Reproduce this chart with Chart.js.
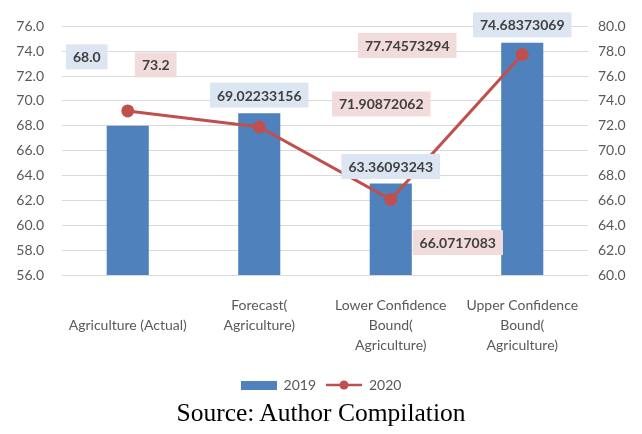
<!DOCTYPE html>
<html lang="en">
<head>
  <meta charset="UTF-8">
  <title>Agriculture forecast</title>
  <script src="https://cdn.jsdelivr.net/npm/chart.js"></script>
  <style>
    body { margin: 0; background: #fff; }
    .wrap { position: relative; width: 642px; height: 434px; }
    #chart { position: absolute; left: 0; top: 0; }
    .source {
      position: absolute; left: 0; top: 397px; width: 642px;
      text-align: center; font-family: "Liberation Serif", "Times New Roman", serif;
      font-size: 25.5px; line-height: 32px; color: #000;
    }
  </style>
</head>
<body>
<div class="wrap">
  <canvas id="chart" width="642" height="402"></canvas>
  <div class="source">Source: Author Compilation</div>
</div>

<script>
  // chart values
  const categories = [
    ['', 'Agriculture (Actual)'],
    ['Forecast(', 'Agriculture)'],
    ['Lower Confidence', 'Bound(', 'Agriculture)'],
    ['Upper Confidence', 'Bound(', 'Agriculture)']
  ];
  const values2019 = [68.0, 69.02233156, 63.36093243, 74.68373069];
  const values2020 = [73.2, 71.90872062, 66.0717083, 77.74573294];
  const leftTicks = [56, 76, 2];   // min, max, step
  const rightTicks = [60, 80, 2];

  // where each value label sits, relative to its bar top / point (px)
  const labelOffsets2019 = [[-41, -69], [0, -18], [0, -17], [0, -18]];
  const labelOffsets2020 = [[28, -46], [122, -23], [67, 43], [-115, -9]];

  const barColor = '#4f81bd';
  const lineColor = '#c0504d';
  const tickColor = '#595959';

  function fmt(v) {
    const s = String(v);
    return s.includes('.') ? s : v.toFixed(1);
  }

  // legend symbols
  function barSymbol() {
    const c = document.createElement('canvas');
    c.width = 36; c.height = 9;
    const g = c.getContext('2d');
    g.fillStyle = barColor;
    g.fillRect(0, 0, 36, 9);
    return c;
  }
  function lineSymbol() {
    const c = document.createElement('canvas');
    c.width = 36; c.height = 12;
    const g = c.getContext('2d');
    g.strokeStyle = lineColor;
    g.lineWidth = 2.5;
    g.beginPath(); g.moveTo(0, 6); g.lineTo(36, 6); g.stroke();
    g.fillStyle = lineColor;
    g.beginPath(); g.arc(18, 6, 4.5, 0, Math.PI * 2); g.fill();
    return c;
  }

  // boxed value labels
  const valueLabels = {
    id: 'valueLabels',
    afterDatasetsDraw(chart) {
      const ctx = chart.ctx;
      ctx.save();
      ctx.font = 'bold 14px Lato, sans-serif';
      ctx.textAlign = 'center';
      ctx.textBaseline = 'middle';
      chart.data.datasets.forEach((ds, i) => {
        const meta = chart.getDatasetMeta(i);
        const offs = ds.labelOffsets;
        meta.data.forEach((el, j) => {
          const text = fmt(ds.data[j]);
          const x = el.x + offs[j][0];
          const y = el.y + offs[j][1];
          const w = ctx.measureText(text).width + 14;
          const h = 25;
          ctx.fillStyle = ds.labelBg;
          ctx.fillRect(x - w / 2, y - h / 2, w, h);
          ctx.fillStyle = '#404040';
          ctx.fillText(text, x, y + 1);
        });
      });
      ctx.restore();
    }
  };

  const ctx = document.getElementById('chart').getContext('2d');
  new Chart(ctx, {
    type: 'bar',
    data: {
      labels: categories,
      datasets: [
        {
          type: 'bar',
          label: '2019',
          data: values2019,
          backgroundColor: barColor,
          yAxisID: 'y',
          order: 2,
          barPercentage: 1,
          categoryPercentage: 0.32,
          labelOffsets: labelOffsets2019,
          labelBg: '#dce6f2'
        },
        {
          type: 'line',
          label: '2020',
          data: values2020,
          borderColor: lineColor,
          backgroundColor: lineColor,
          borderWidth: 3,
          pointRadius: 5,
          pointHoverRadius: 5,
          yAxisID: 'y2',
          order: 1,
          labelOffsets: labelOffsets2020,
          labelBg: '#f2dcdb'
        }
      ]
    },
    options: {
      responsive: false,
      animation: false,
      layout: { padding: { top: 12, left: 0, right: 0 } },
      plugins: {
        tooltip: { enabled: false },
        legend: {
          position: 'bottom',
          labels: {
            color: tickColor,
            font: { family: 'Lato', size: 14 },
            usePointStyle: true,
            pointStyleWidth: 36,
            boxHeight: 12,
            padding: 10,
            sort: (a, b) => a.datasetIndex - b.datasetIndex,
            generateLabels(chart) {
              const items = Chart.defaults.plugins.legend.labels.generateLabels(chart);
              items.forEach(it => {
                it.pointStyle = it.datasetIndex === 0 ? barSymbol() : lineSymbol();
              });
              return items;
            }
          }
        }
      },
      scales: {
        x: {
          grid: { display: false },
          border: { display: false },
          ticks: {
            color: tickColor,
            font: { family: 'Lato', size: 14, lineHeight: 1.4 },
            maxRotation: 0,
            autoSkip: false,
            padding: 13
          },
          afterFit(scale) { scale.height = 93; }
        },
        y: {
          position: 'left',
          min: leftTicks[0],
          max: leftTicks[1],
          grid: { color: '#d9d9d9', drawTicks: false },
          border: { display: false },
          ticks: {
            stepSize: leftTicks[2],
            color: tickColor,
            font: { family: 'Lato', size: 14 },
            padding: 18,
            callback: v => v.toFixed(1)
          },
          afterFit(scale) { scale.width = 62; }
        },
        y2: {
          position: 'right',
          min: rightTicks[0],
          max: rightTicks[1],
          grid: { display: false, drawTicks: false },
          border: { display: false },
          ticks: {
            stepSize: rightTicks[2],
            color: tickColor,
            font: { family: 'Lato', size: 14 },
            padding: 10,
            callback: v => v.toFixed(1)
          },
          afterFit(scale) { scale.width = 54; }
        }
      }
    },
    plugins: [valueLabels]
  });
</script>
</body>
</html>
